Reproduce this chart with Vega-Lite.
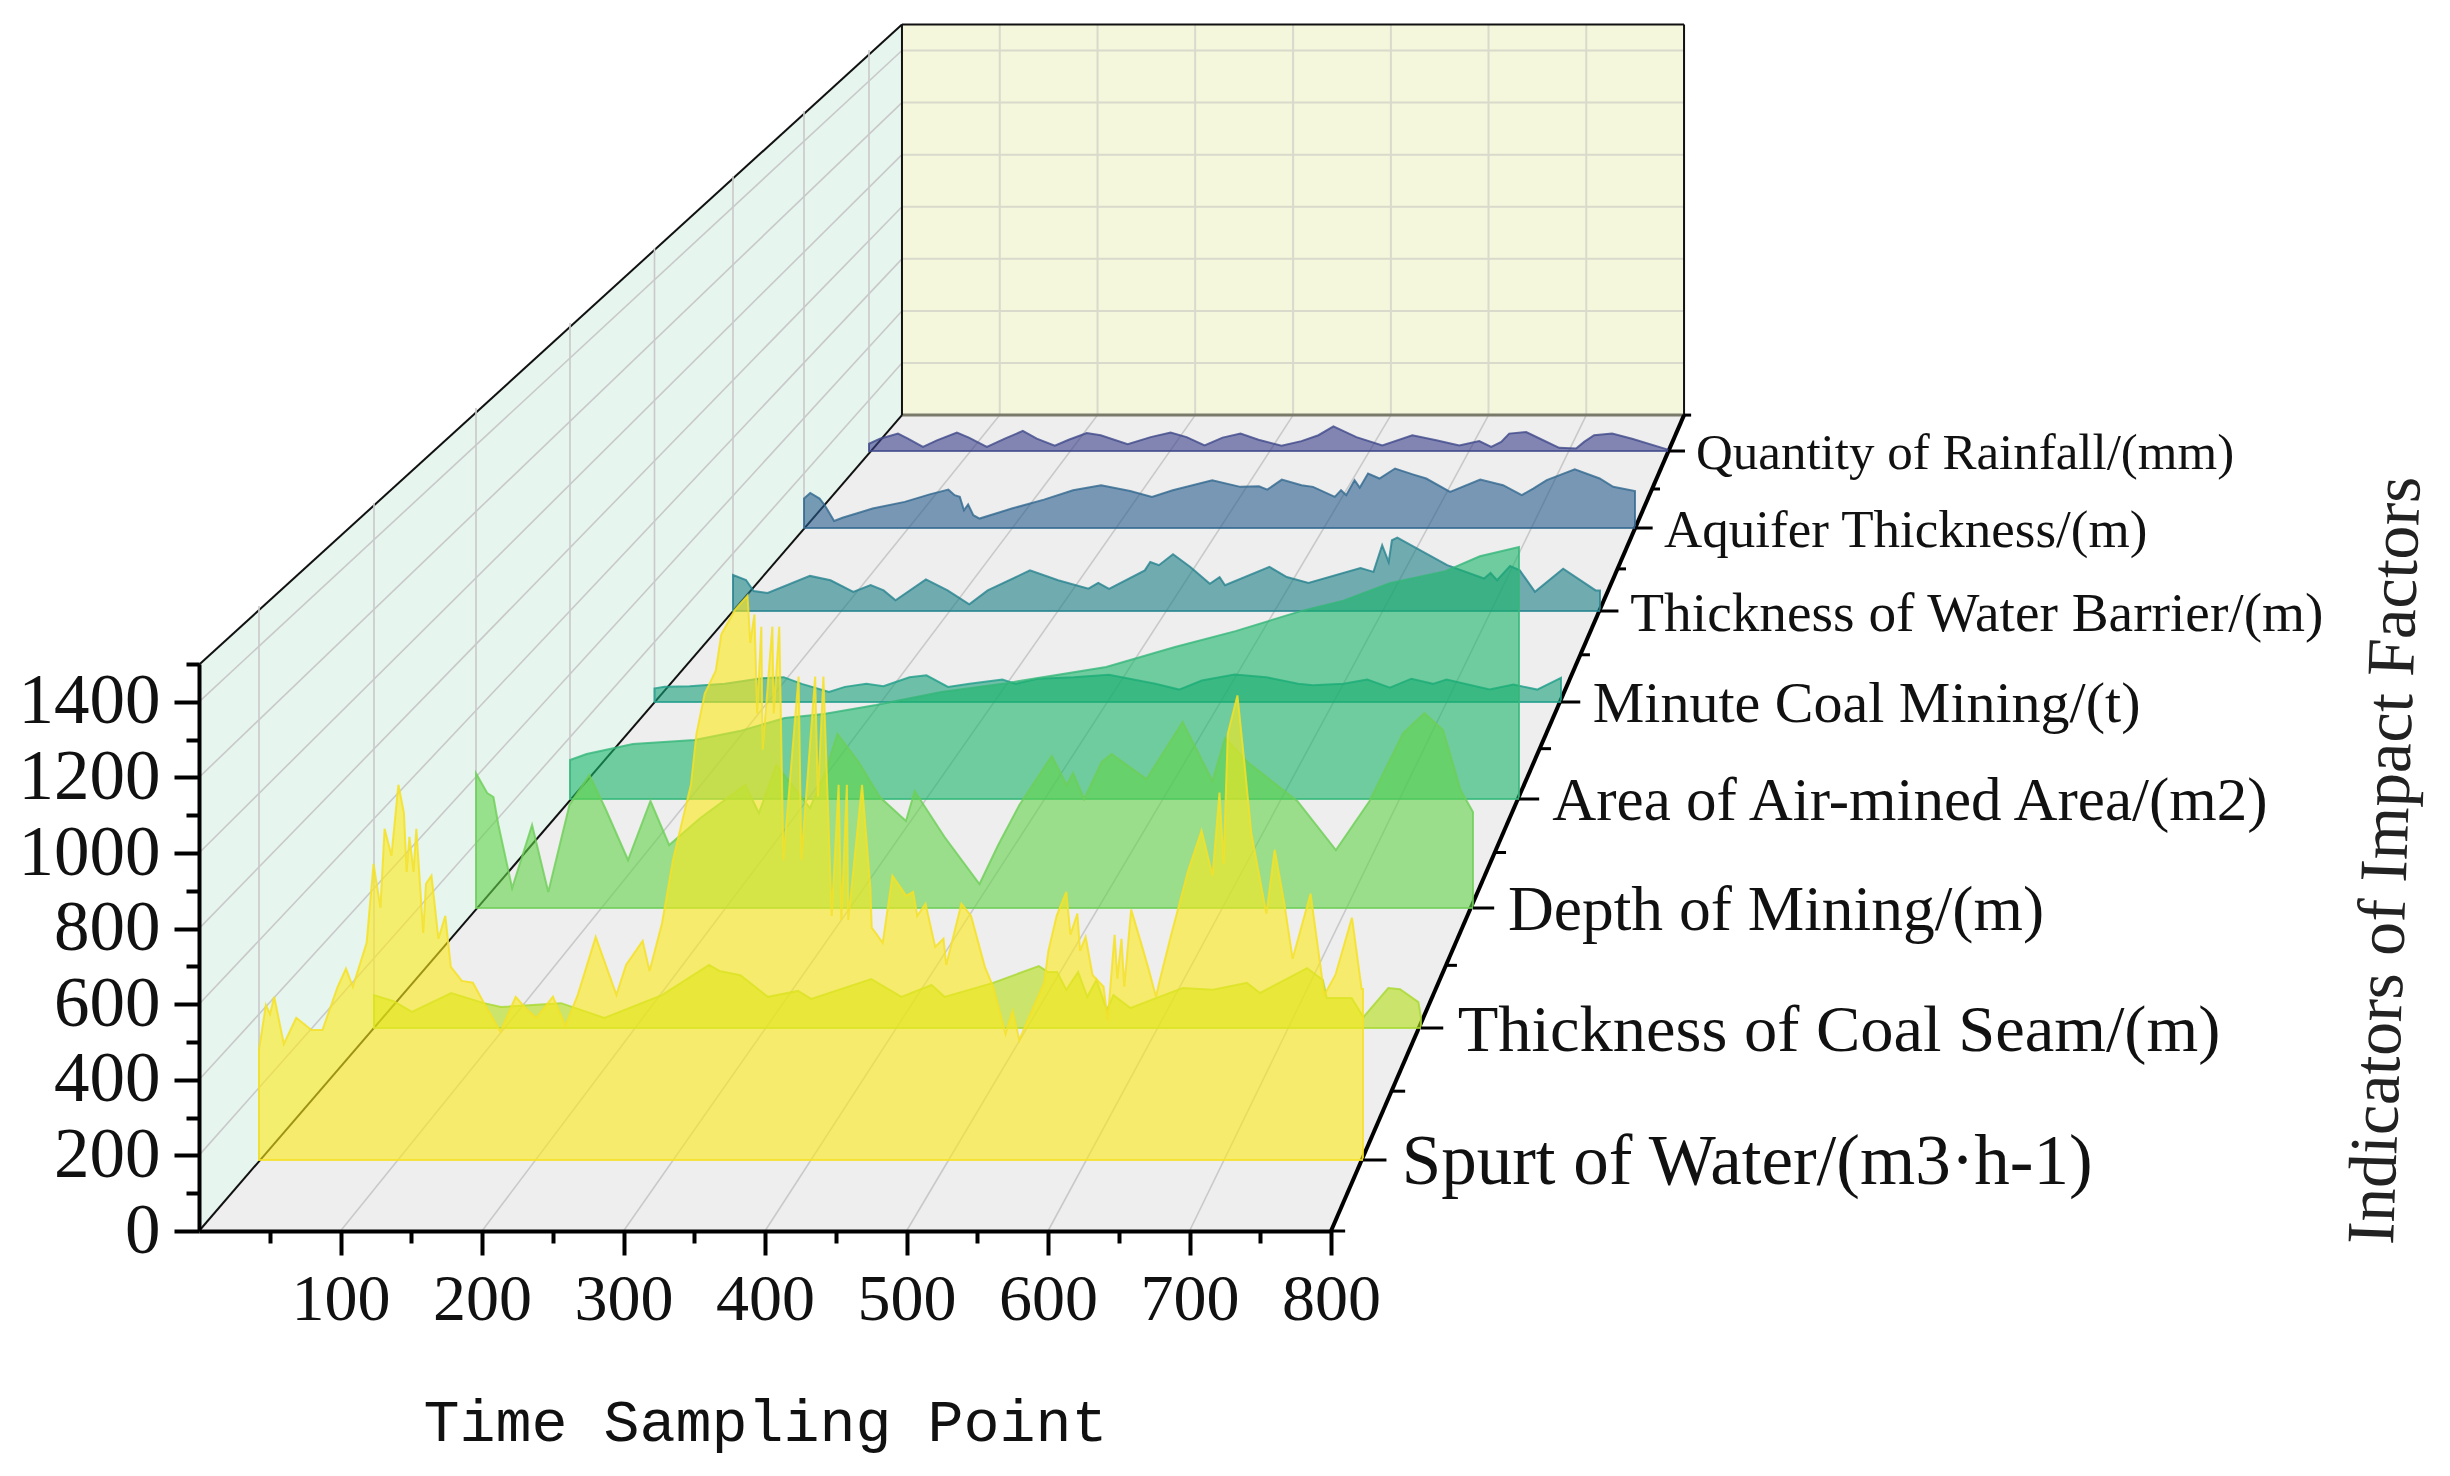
{"$schema":"https://vega.github.io/schema/vega-lite/v6.json","width":1132,"height":1231,"padding":{"left":199,"top":0,"right":1119,"bottom":245},"autosize":{"type":"none"},"background":"#ffffff","config":{"view":{"stroke":null}},
"datasets":{
"leftWall":[{"depth":0,"floor":0,"top":1498},{"depth":496.8,"floor":2158.5,"top":3191.6}],
"floorPlane":[{"level":0,"near":0,"far":800},{"level":2158.5,"near":496.8,"far":1049.5}],
"backWall":[{"left":496.8,"right":1049.5,"floor":2158.5,"top":3191.6}],
"frameLines":[
{"line":"f100","kind":"grid","time":100,"level":0},{"line":"f100","kind":"grid","time":565.9,"level":2158.5},
{"line":"f200","kind":"grid","time":200,"level":0},{"line":"f200","kind":"grid","time":635,"level":2158.5},
{"line":"f300","kind":"grid","time":300,"level":0},{"line":"f300","kind":"grid","time":704,"level":2158.5},
{"line":"f400","kind":"grid","time":400,"level":0},{"line":"f400","kind":"grid","time":773.2,"level":2158.5},
{"line":"f500","kind":"grid","time":500,"level":0},{"line":"f500","kind":"grid","time":842.3,"level":2158.5},
{"line":"f600","kind":"grid","time":600,"level":0},{"line":"f600","kind":"grid","time":911.3,"level":2158.5},
{"line":"f700","kind":"grid","time":700,"level":0},{"line":"f700","kind":"grid","time":980.4,"level":2158.5},
{"line":"w200","kind":"grid","time":0,"level":200},{"line":"w200","kind":"grid","time":496.8,"level":2296.3},
{"line":"w400","kind":"grid","time":0,"level":400},{"line":"w400","kind":"grid","time":496.8,"level":2434},
{"line":"w600","kind":"grid","time":0,"level":600},{"line":"w600","kind":"grid","time":496.8,"level":2571.8},
{"line":"w800","kind":"grid","time":0,"level":800},{"line":"w800","kind":"grid","time":496.8,"level":2709.6},
{"line":"w1000","kind":"grid","time":0,"level":1000},{"line":"w1000","kind":"grid","time":496.8,"level":2847.4},
{"line":"w1200","kind":"grid","time":0,"level":1200},{"line":"w1200","kind":"grid","time":496.8,"level":2985.2},
{"line":"w1400","kind":"grid","time":0,"level":1400},{"line":"w1400","kind":"grid","time":496.8,"level":3123},
{"line":"bv100","kind":"back","time":565.9,"level":2158.5},{"line":"bv100","kind":"back","time":565.9,"level":3191.6},
{"line":"bv200","kind":"back","time":635,"level":2158.5},{"line":"bv200","kind":"back","time":635,"level":3191.6},
{"line":"bv300","kind":"back","time":704,"level":2158.5},{"line":"bv300","kind":"back","time":704,"level":3191.6},
{"line":"bv400","kind":"back","time":773.2,"level":2158.5},{"line":"bv400","kind":"back","time":773.2,"level":3191.6},
{"line":"bv500","kind":"back","time":842.3,"level":2158.5},{"line":"bv500","kind":"back","time":842.3,"level":3191.6},
{"line":"bv600","kind":"back","time":911.3,"level":2158.5},{"line":"bv600","kind":"back","time":911.3,"level":3191.6},
{"line":"bv700","kind":"back","time":980.4,"level":2158.5},{"line":"bv700","kind":"back","time":980.4,"level":3191.6},
{"line":"bh200","kind":"back","time":496.8,"level":2296.3},{"line":"bh200","kind":"back","time":1049.5,"level":2296.3},
{"line":"bh400","kind":"back","time":496.8,"level":2434},{"line":"bh400","kind":"back","time":1049.5,"level":2434},
{"line":"bh600","kind":"back","time":496.8,"level":2571.8},{"line":"bh600","kind":"back","time":1049.5,"level":2571.8},
{"line":"bh800","kind":"back","time":496.8,"level":2709.6},{"line":"bh800","kind":"back","time":1049.5,"level":2709.6},
{"line":"bh1000","kind":"back","time":496.8,"level":2847.4},{"line":"bh1000","kind":"back","time":1049.5,"level":2847.4},
{"line":"bh1200","kind":"back","time":496.8,"level":2985.2},{"line":"bh1200","kind":"back","time":1049.5,"level":2985.2},
{"line":"bh1400","kind":"back","time":496.8,"level":3123},{"line":"bh1400","kind":"back","time":1049.5,"level":3123},
{"line":"eFloorLeft","kind":"edge","time":0,"level":0},{"line":"eFloorLeft","kind":"edge","time":496.8,"level":2158.5},
{"line":"eTop","kind":"edge","time":0,"level":1498},{"line":"eTop","kind":"edge","time":496.8,"level":3191.6},
{"line":"eBackLeft","kind":"edge","time":496.8,"level":2158.5},{"line":"eBackLeft","kind":"edge","time":496.8,"level":3191.6},
{"line":"eBackTop","kind":"edge","time":496.8,"level":3191.6},{"line":"eBackTop","kind":"edge","time":1049.5,"level":3191.6},
{"line":"eBackRight","kind":"edge","time":1049.5,"level":2158.5},{"line":"eBackRight","kind":"edge","time":1049.5,"level":3191.6},
{"line":"eBackFloor","kind":"soft","time":496.8,"level":2158.5},{"line":"eBackFloor","kind":"soft","time":1049.5,"level":2158.5},
{"line":"depthAxis","kind":"axis","time":800,"level":0},{"line":"depthAxis","kind":"axis","time":1049.5,"level":2158.5},
{"line":"m0","kind":"minor","time":800,"level":0},{"line":"m0","kind":"minor","time":810,"level":0},
{"line":"m1","kind":"minor","time":842.8,"level":369.9},{"line":"m1","kind":"minor","time":852.4,"level":369.9},
{"line":"m2","kind":"minor","time":881.3,"level":702.8},{"line":"m2","kind":"minor","time":889,"level":702.8},
{"line":"m3","kind":"minor","time":915.9,"level":1001.3},{"line":"m3","kind":"minor","time":923.7,"level":1001.3},
{"line":"m4","kind":"minor","time":947.7,"level":1276},{"line":"m4","kind":"minor","time":955.5,"level":1276},
{"line":"m5","kind":"minor","time":976.4,"level":1524.4},{"line":"m5","kind":"minor","time":983,"level":1524.4},
{"line":"m6","kind":"minor","time":1002.7,"level":1751.6},{"line":"m6","kind":"minor","time":1008.5,"level":1751.6},
{"line":"m7","kind":"minor","time":1026.9,"level":1963},{"line":"m7","kind":"minor","time":1032.5,"level":1963},
{"line":"m8","kind":"minor","time":1049.5,"level":2158.5},{"line":"m8","kind":"minor","time":1054.5,"level":2158.5}
],
"rainfall":[{"time":0,"value":27},{"time":11,"value":46},{"time":29,"value":65},{"time":39,"value":46},{"time":54,"value":15},{"time":68,"value":40},{"time":88,"value":69},{"time":100,"value":50},{"time":118,"value":15},{"time":136,"value":46},{"time":154,"value":75},{"time":168,"value":46},{"time":186,"value":20},{"time":200,"value":42},{"time":218,"value":67},{"time":232,"value":59},{"time":259,"value":25},{"time":282,"value":52},{"time":302,"value":69},{"time":318,"value":52},{"time":336,"value":21},{"time":354,"value":50},{"time":372,"value":65},{"time":390,"value":42},{"time":413,"value":20},{"time":433,"value":37},{"time":450,"value":59},{"time":465,"value":92},{"time":488,"value":52},{"time":514,"value":21},{"time":544,"value":59},{"time":568,"value":40},{"time":591,"value":21},{"time":611,"value":37},{"time":623,"value":15},{"time":633,"value":34},{"time":641,"value":65},{"time":658,"value":71},{"time":674,"value":42},{"time":691,"value":12},{"time":708,"value":9},{"time":716,"value":34},{"time":726,"value":59},{"time":744,"value":65},{"time":764,"value":46},{"time":800,"value":5}],
"aquifer":[{"time":0,"value":106},{"time":6,"value":126},{"time":15,"value":106},{"time":20,"value":82},{"time":29,"value":25},{"time":37,"value":37},{"time":66,"value":70},{"time":97,"value":94},{"time":121,"value":121},{"time":139,"value":138},{"time":145,"value":118},{"time":150,"value":112},{"time":154,"value":64},{"time":158,"value":85},{"time":163,"value":46},{"time":169,"value":34},{"time":200,"value":70},{"time":231,"value":102},{"time":259,"value":136},{"time":286,"value":154},{"time":314,"value":133},{"time":335,"value":112},{"time":355,"value":136},{"time":393,"value":172},{"time":420,"value":148},{"time":438,"value":150},{"time":446,"value":138},{"time":460,"value":174},{"time":479,"value":154},{"time":490,"value":148},{"time":511,"value":112},{"time":517,"value":136},{"time":522,"value":118},{"time":530,"value":172},{"time":535,"value":145},{"time":543,"value":196},{"time":554,"value":178},{"time":569,"value":214},{"time":586,"value":193},{"time":599,"value":178},{"time":622,"value":130},{"time":651,"value":174},{"time":673,"value":154},{"time":691,"value":118},{"time":702,"value":142},{"time":715,"value":172},{"time":742,"value":211},{"time":766,"value":178},{"time":779,"value":148},{"time":800,"value":133}],
"barrier":[{"time":0,"value":124},{"time":12,"value":107},{"time":19,"value":69},{"time":32,"value":62},{"time":71,"value":121},{"time":90,"value":106},{"time":111,"value":66},{"time":127,"value":89},{"time":139,"value":71},{"time":150,"value":37},{"time":178,"value":109},{"time":198,"value":71},{"time":218,"value":23},{"time":235,"value":71},{"time":274,"value":140},{"time":300,"value":106},{"time":328,"value":77},{"time":337,"value":97},{"time":347,"value":76},{"time":380,"value":140},{"time":385,"value":169},{"time":393,"value":158},{"time":406,"value":196},{"time":422,"value":152},{"time":440,"value":94},{"time":449,"value":117},{"time":454,"value":89},{"time":495,"value":152},{"time":511,"value":117},{"time":531,"value":97},{"time":579,"value":148},{"time":591,"value":135},{"time":599,"value":227},{"time":605,"value":169},{"time":608,"value":244},{"time":613,"value":253},{"time":659,"value":158},{"time":693,"value":112},{"time":699,"value":131},{"time":705,"value":106},{"time":717,"value":155},{"time":726,"value":140},{"time":740,"value":66},{"time":766,"value":146},{"time":796,"value":71},{"time":800,"value":71}],
"minute":[{"time":0,"value":45},{"time":9,"value":50},{"time":31,"value":52},{"time":62,"value":60},{"time":93,"value":78},{"time":114,"value":82},{"time":130,"value":60},{"time":154,"value":33},{"time":168,"value":50},{"time":187,"value":60},{"time":202,"value":52},{"time":225,"value":82},{"time":240,"value":88},{"time":259,"value":50},{"time":278,"value":60},{"time":307,"value":74},{"time":319,"value":60},{"time":338,"value":77},{"time":370,"value":82},{"time":401,"value":90},{"time":442,"value":60},{"time":463,"value":41},{"time":483,"value":71},{"time":512,"value":91},{"time":540,"value":82},{"time":568,"value":60},{"time":581,"value":55},{"time":608,"value":60},{"time":629,"value":74},{"time":649,"value":47},{"time":668,"value":77},{"time":687,"value":60},{"time":699,"value":74},{"time":737,"value":41},{"time":758,"value":58},{"time":779,"value":41},{"time":800,"value":80}],
"airMined":[{"time":0,"value":123},{"time":14,"value":142},{"time":53,"value":173},{"time":105,"value":186},{"time":143,"value":214},{"time":181,"value":255},{"time":214,"value":268},{"time":258,"value":296},{"time":313,"value":337},{"time":368,"value":365},{"time":452,"value":416},{"time":510,"value":479},{"time":561,"value":529},{"time":616,"value":592},{"time":652,"value":625},{"time":691,"value":680},{"time":738,"value":718},{"time":767,"value":765},{"time":800,"value":794}],
"depth":[{"time":0,"value":404},{"time":9,"value":345},{"time":14,"value":333},{"time":18,"value":249},{"time":29,"value":60},{"time":45,"value":249},{"time":58,"value":48},{"time":75,"value":309},{"time":91,"value":399},{"time":104,"value":297},{"time":122,"value":144},{"time":140,"value":321},{"time":155,"value":189},{"time":180,"value":270},{"time":216,"value":369},{"time":227,"value":285},{"time":241,"value":429},{"time":268,"value":300},{"time":280,"value":405},{"time":290,"value":522},{"time":307,"value":438},{"time":324,"value":333},{"time":345,"value":261},{"time":352,"value":351},{"time":376,"value":213},{"time":404,"value":72},{"time":419,"value":189},{"time":436,"value":309},{"time":462,"value":456},{"time":474,"value":369},{"time":479,"value":405},{"time":488,"value":327},{"time":502,"value":438},{"time":510,"value":462},{"time":538,"value":387},{"time":567,"value":558},{"time":591,"value":381},{"time":601,"value":510},{"time":619,"value":438},{"time":659,"value":321},{"time":690,"value":174},{"time":717,"value":321},{"time":744,"value":525},{"time":761,"value":585},{"time":776,"value":534},{"time":790,"value":354},{"time":800,"value":288}],
"coalSeam":[{"time":0,"value":94},{"time":15,"value":77},{"time":29,"value":46},{"time":59,"value":100},{"time":84,"value":71},{"time":97,"value":60},{"time":143,"value":71},{"time":176,"value":29},{"time":220,"value":94},{"time":256,"value":180},{"time":264,"value":163},{"time":280,"value":151},{"time":301,"value":89},{"time":324,"value":106},{"time":334,"value":83},{"time":380,"value":140},{"time":403,"value":89},{"time":426,"value":123},{"time":436,"value":89},{"time":473,"value":129},{"time":508,"value":177},{"time":515,"value":160},{"time":522,"value":160},{"time":529,"value":109},{"time":538,"value":160},{"time":545,"value":89},{"time":552,"value":137},{"time":560,"value":51},{"time":565,"value":94},{"time":578,"value":57},{"time":598,"value":86},{"time":618,"value":114},{"time":641,"value":109},{"time":667,"value":129},{"time":677,"value":100},{"time":713,"value":171},{"time":725,"value":137},{"time":728,"value":86},{"time":747,"value":86},{"time":756,"value":31},{"time":775,"value":114},{"time":784,"value":111},{"time":798,"value":74},{"time":800,"value":30}],
"spurt":[{"time":0,"value":298},{"time":5,"value":420},{"time":8,"value":395},{"time":11,"value":442},{"time":18,"value":314},{"time":27,"value":385},{"time":38,"value":352},{"time":46,"value":352},{"time":57,"value":469},{"time":63,"value":518},{"time":68,"value":469},{"time":78,"value":588},{"time":83,"value":802},{"time":88,"value":683},{"time":91,"value":897},{"time":96,"value":824},{"time":101,"value":1016},{"time":105,"value":940},{"time":107,"value":780},{"time":109,"value":875},{"time":112,"value":780},{"time":114,"value":897},{"time":119,"value":615},{"time":121,"value":748},{"time":125,"value":770},{"time":130,"value":599},{"time":135,"value":661},{"time":139,"value":523},{"time":147,"value":485},{"time":155,"value":480},{"time":163,"value":425},{"time":175,"value":347},{"time":186,"value":442},{"time":195,"value":404},{"time":201,"value":385},{"time":213,"value":442},{"time":222,"value":363},{"time":231,"value":447},{"time":244,"value":604},{"time":259,"value":447},{"time":266,"value":528},{"time":278,"value":593},{"time":283,"value":512},{"time":292,"value":640},{"time":300,"value":813},{"time":313,"value":1016},{"time":317,"value":1154},{"time":323,"value":1263},{"time":331,"value":1325},{"time":335,"value":1423},{"time":345,"value":1490},{"time":354,"value":1528},{"time":356,"value":1400},{"time":359,"value":1477},{"time":361,"value":1209},{"time":364,"value":1444},{"time":365,"value":1111},{"time":372,"value":1444},{"time":373,"value":1209},{"time":377,"value":1444},{"time":380,"value":813},{"time":391,"value":1309},{"time":393,"value":813},{"time":403,"value":1309},{"time":405,"value":984},{"time":409,"value":1309},{"time":415,"value":661},{"time":420,"value":1016},{"time":422,"value":650},{"time":426,"value":1016},{"time":427,"value":650},{"time":437,"value":1016},{"time":443,"value":737},{"time":444,"value":629},{"time":452,"value":588},{"time":459,"value":770},{"time":469,"value":715},{"time":474,"value":726},{"time":477,"value":661},{"time":483,"value":694},{"time":490,"value":577},{"time":496,"value":599},{"time":498,"value":528},{"time":509,"value":694},{"time":516,"value":661},{"time":526,"value":523},{"time":532,"value":469},{"time":541,"value":341},{"time":546,"value":404},{"time":551,"value":325},{"time":560,"value":404},{"time":569,"value":480},{"time":572,"value":566},{"time":578,"value":661},{"time":585,"value":726},{"time":588,"value":610},{"time":593,"value":667},{"time":595,"value":566},{"time":599,"value":604},{"time":604,"value":501},{"time":612,"value":469},{"time":615,"value":379},{"time":620,"value":610},{"time":622,"value":491},{"time":625,"value":599},{"time":627,"value":469},{"time":632,"value":678},{"time":640,"value":577},{"time":645,"value":512},{"time":650,"value":442},{"time":653,"value":491},{"time":661,"value":610},{"time":667,"value":694},{"time":673,"value":780},{"time":683,"value":892},{"time":691,"value":770},{"time":696,"value":995},{"time":699,"value":802},{"time":702,"value":1154},{"time":709,"value":1258},{"time":714,"value":1078},{"time":719,"value":886},{"time":730,"value":667},{"time":736,"value":840},{"time":743,"value":694},{"time":749,"value":545},{"time":762,"value":721},{"time":772,"value":447},{"time":780,"value":501},{"time":792,"value":656},{"time":799,"value":463},{"time":800,"value":463}]
},
"layer":[
{"layer":[
{"data":{"name":"leftWall"},"mark":{"type":"area","fill":"#e6f5ee","orient":"vertical"},"encoding":{"x":{"field":"depth","type":"quantitative","scale":{"domain":[0,800],"range":[0,1132],"nice":false},"axis":null},"y":{"field":"floor","type":"quantitative","scale":{"domain":[0,1500],"range":[1231,664],"nice":false},"axis":null},"y2":{"field":"top"}}},
{"data":{"name":"floorPlane"},"mark":{"type":"area","fill":"#eeeeee","orient":"horizontal"},"encoding":{"y":{"field":"level","type":"quantitative","axis":null},"x":{"field":"near","type":"quantitative","axis":null},"x2":{"field":"far"}}},
{"data":{"name":"backWall"},"mark":{"type":"rect","fill":"#f5f7dc"},"encoding":{"x":{"field":"left","type":"quantitative","axis":null},"x2":{"field":"right"},"y":{"field":"floor","type":"quantitative","axis":null},"y2":{"field":"top"}}},
{"data":{"name":"frameLines"},"transform":[{"filter":"datum.kind==='grid'"}],"mark":{"type":"line","stroke":"#c9c9c9","strokeWidth":1.6},"encoding":{"x":{"field":"time","type":"quantitative","axis":null},"y":{"field":"level","type":"quantitative","axis":null},"detail":{"field":"line"}}},
{"data":{"name":"frameLines"},"transform":[{"filter":"datum.kind==='back'"}],"mark":{"type":"line","stroke":"#d9d9cc","strokeWidth":2},"encoding":{"x":{"field":"time","type":"quantitative","axis":null},"y":{"field":"level","type":"quantitative","axis":null},"detail":{"field":"line"}}},
{"data":{"name":"frameLines"},"transform":[{"filter":"datum.kind==='soft'"}],"mark":{"type":"line","stroke":"#7a7a6a","strokeWidth":3},"encoding":{"x":{"field":"time","type":"quantitative","axis":null},"y":{"field":"level","type":"quantitative","axis":null},"detail":{"field":"line"}}},
{"data":{"name":"frameLines"},"transform":[{"filter":"datum.kind==='edge'"}],"mark":{"type":"line","stroke":"#111111","strokeWidth":2},"encoding":{"x":{"field":"time","type":"quantitative","axis":null},"y":{"field":"level","type":"quantitative","axis":null},"detail":{"field":"line"}}},
{"data":{"name":"frameLines"},"transform":[{"filter":"datum.kind==='axis'"}],"mark":{"type":"line","stroke":"#000000","strokeWidth":4},"encoding":{"x":{"field":"time","type":"quantitative","axis":null},"y":{"field":"level","type":"quantitative","axis":null},"detail":{"field":"line"}}},
{"data":{"name":"frameLines"},"transform":[{"filter":"datum.kind==='minor'"}],"mark":{"type":"line","stroke":"#000000","strokeWidth":3},"encoding":{"x":{"field":"time","type":"quantitative","axis":null},"y":{"field":"level","type":"quantitative","axis":null},"detail":{"field":"line"}}}
]},
{"data":{"values":[{"tick":100}]},"mark":{"type":"point","opacity":0},"encoding":{"x":{"field":"tick","type":"quantitative","scale":{"domain":[0,800],"range":[0,1132],"nice":false},"axis":{"orient":"bottom","zindex":1,"values":[100,200,300,400,500,600,700,800],"title":"Time Sampling Point","titleFont":"Liberation Mono","titleFontSize":60,"titleFontWeight":"normal","titleX":566,"titleY":191,"titleBaseline":"middle","titleColor":"#111111","labelFont":"Liberation Serif","labelFontSize":66,"labelColor":"#111111","labelPadding":12,"labelOverlap":false,"labelFlush":false,"tickColor":"#000000","tickWidth":4,"tickSize":24,"domainColor":"#000000","domainWidth":4,"grid":false,"format":"d"}},"y":{"field":"tick","type":"quantitative","scale":{"domain":[0,1500],"range":[1231,664],"nice":false},"axis":{"orient":"left","zindex":1,"values":[0,200,400,600,800,1000,1200,1400],"title":null,"labelFont":"Liberation Serif","labelFontSize":71,"labelColor":"#111111","labelPadding":14,"labelOverlap":false,"labelFlush":false,"tickColor":"#000000","tickWidth":4,"tickSize":25,"domainColor":"#000000","domainWidth":4,"grid":false,"format":"d"}}}},
{"data":{"values":[{"tick":100}]},"mark":{"type":"point","opacity":0},"encoding":{"x":{"field":"tick","type":"quantitative","scale":{"domain":[0,800],"range":[0,1132],"nice":false},"axis":{"orient":"bottom","values":[50,150,250,350,450,550,650,750],"title":null,"labels":false,"domain":false,"grid":false,"tickColor":"#000000","tickWidth":4,"tickSize":12}},"y":{"field":"tick","type":"quantitative","scale":{"domain":[0,1500],"range":[1231,664],"nice":false},"axis":{"orient":"left","values":[100,300,500,700,900,1100,1300,1500],"title":null,"labels":false,"domain":false,"grid":false,"tickColor":"#000000","tickWidth":4,"tickSize":13}}}},
{"data":{"values":[{"tick":100}]},"mark":{"type":"point","opacity":0},"encoding":{"y":{"field":"tick","type":"quantitative","scale":{"domain":[0,1500],"range":[1231,664],"nice":false},"axis":{"orient":"right","title":"Indicators of Impact Factors","titleFont":"Liberation Serif","titleFontSize":68,"titleFontWeight":"normal","titleColor":"#222222","titleAngle":272,"titleX":1055,"titleY":860,"titleAlign":"center","titleBaseline":"middle","labels":false,"ticks":false,"domain":false,"grid":false}}}},
{"data":{"values":[{"indicator":"Quantity of Rainfall/(mm)"}]},"layer":[
{"mark":{"type":"rule","stroke":"#c9c9c9","strokeWidth":1.6},"encoding":{"x":{"datum":0,"type":"quantitative","axis":null},"y":{"datum":0,"type":"quantitative","axis":null},"y2":{"datum":1500}}},
{"data":{"name":"rainfall"},"mark":{"type":"area","fill":"#3b3f8a","fillOpacity":0.6,"stroke":"#3e4989","strokeOpacity":0.8,"strokeWidth":2},"encoding":{"x":{"field":"time","type":"quantitative","scale":{"domain":[0,800],"range":[670,1469],"nice":false},"axis":null},"y":{"field":"value","type":"quantitative","stack":null,"scale":{"domain":[0,1500],"range":[451,50],"nice":false},"axis":null}}},
{"mark":{"type":"rule","stroke":"#000000","strokeWidth":3},"encoding":{"x":{"datum":800,"type":"quantitative","axis":null},"x2":{"datum":817},"y":{"datum":0,"type":"quantitative","axis":null}}},
{"mark":{"type":"text","font":"Liberation Serif","fontSize":51,"dy":3,"align":"left","baseline":"middle","fill":"#111111"},"encoding":{"x":{"datum":828,"type":"quantitative","axis":null},"y":{"datum":0,"type":"quantitative","axis":null},"text":{"field":"indicator"}}}
]},
{"data":{"values":[{"indicator":"Aquifer Thickness/(m)"}]},"layer":[
{"mark":{"type":"rule","stroke":"#c9c9c9","strokeWidth":1.6},"encoding":{"x":{"datum":0,"type":"quantitative","axis":null},"y":{"datum":0,"type":"quantitative","axis":null},"y2":{"datum":1500}}},
{"data":{"name":"aquifer"},"mark":{"type":"area","fill":"#2a5d8e","fillOpacity":0.6,"stroke":"#31688e","strokeOpacity":0.8,"strokeWidth":2},"encoding":{"x":{"field":"time","type":"quantitative","scale":{"domain":[0,800],"range":[605,1436],"nice":false},"axis":null},"y":{"field":"value","type":"quantitative","stack":null,"scale":{"domain":[0,1500],"range":[528,111],"nice":false},"axis":null}}},
{"mark":{"type":"rule","stroke":"#000000","strokeWidth":3},"encoding":{"x":{"datum":800,"type":"quantitative","axis":null},"x2":{"datum":817},"y":{"datum":0,"type":"quantitative","axis":null}}},
{"mark":{"type":"text","font":"Liberation Serif","fontSize":53,"dy":3,"align":"left","baseline":"middle","fill":"#111111"},"encoding":{"x":{"datum":828,"type":"quantitative","axis":null},"y":{"datum":0,"type":"quantitative","axis":null},"text":{"field":"indicator"}}}
]},
{"data":{"values":[{"indicator":"Thickness of Water Barrier/(m)"}]},"layer":[
{"mark":{"type":"rule","stroke":"#c9c9c9","strokeWidth":1.6},"encoding":{"x":{"datum":0,"type":"quantitative","axis":null},"y":{"datum":0,"type":"quantitative","axis":null},"y2":{"datum":1500}}},
{"data":{"name":"barrier"},"mark":{"type":"area","fill":"#1c7f85","fillOpacity":0.6,"stroke":"#26828e","strokeOpacity":0.8,"strokeWidth":2},"encoding":{"x":{"field":"time","type":"quantitative","scale":{"domain":[0,800],"range":[534,1401],"nice":false},"axis":null},"y":{"field":"value","type":"quantitative","stack":null,"scale":{"domain":[0,1500],"range":[611,176],"nice":false},"axis":null}}},
{"mark":{"type":"rule","stroke":"#000000","strokeWidth":3},"encoding":{"x":{"datum":800,"type":"quantitative","axis":null},"x2":{"datum":817},"y":{"datum":0,"type":"quantitative","axis":null}}},
{"mark":{"type":"text","font":"Liberation Serif","fontSize":55.3,"dy":3,"align":"left","baseline":"middle","fill":"#111111"},"encoding":{"x":{"datum":828,"type":"quantitative","axis":null},"y":{"datum":0,"type":"quantitative","axis":null},"text":{"field":"indicator"}}}
]},
{"data":{"values":[{"indicator":"Minute Coal Mining/(t)"}]},"layer":[
{"mark":{"type":"rule","stroke":"#c9c9c9","strokeWidth":1.6},"encoding":{"x":{"datum":0,"type":"quantitative","axis":null},"y":{"datum":0,"type":"quantitative","axis":null},"y2":{"datum":1500}}},
{"data":{"name":"minute"},"mark":{"type":"area","fill":"#17a079","fillOpacity":0.6,"stroke":"#1f9e89","strokeOpacity":0.8,"strokeWidth":2},"encoding":{"x":{"field":"time","type":"quantitative","scale":{"domain":[0,800],"range":[455.5,1362],"nice":false},"axis":null},"y":{"field":"value","type":"quantitative","stack":null,"scale":{"domain":[0,1500],"range":[702,248],"nice":false},"axis":null}}},
{"mark":{"type":"rule","stroke":"#000000","strokeWidth":3},"encoding":{"x":{"datum":800,"type":"quantitative","axis":null},"x2":{"datum":817},"y":{"datum":0,"type":"quantitative","axis":null}}},
{"mark":{"type":"text","font":"Liberation Serif","fontSize":58,"dy":3,"align":"left","baseline":"middle","fill":"#111111"},"encoding":{"x":{"datum":828,"type":"quantitative","axis":null},"y":{"datum":0,"type":"quantitative","axis":null},"text":{"field":"indicator"}}}
]},
{"data":{"values":[{"indicator":"Area of Air-mined Area/(m2)"}]},"layer":[
{"mark":{"type":"rule","stroke":"#c9c9c9","strokeWidth":1.6},"encoding":{"x":{"datum":0,"type":"quantitative","axis":null},"y":{"datum":0,"type":"quantitative","axis":null},"y2":{"datum":1500}}},
{"data":{"name":"airMined"},"mark":{"type":"area","fill":"#19b66b","fillOpacity":0.6,"stroke":"#35b779","strokeOpacity":0.8,"strokeWidth":2},"encoding":{"x":{"field":"time","type":"quantitative","scale":{"domain":[0,800],"range":[371,1320],"nice":false},"axis":null},"y":{"field":"value","type":"quantitative","stack":null,"scale":{"domain":[0,1500],"range":[799,323],"nice":false},"axis":null}}},
{"mark":{"type":"rule","stroke":"#000000","strokeWidth":3},"encoding":{"x":{"datum":800,"type":"quantitative","axis":null},"x2":{"datum":817},"y":{"datum":0,"type":"quantitative","axis":null}}},
{"mark":{"type":"text","font":"Liberation Serif","fontSize":61,"dy":3,"align":"left","baseline":"middle","fill":"#111111"},"encoding":{"x":{"datum":828,"type":"quantitative","axis":null},"y":{"datum":0,"type":"quantitative","axis":null},"text":{"field":"indicator"}}}
]},
{"data":{"values":[{"indicator":"Depth of Mining/(m)"}]},"layer":[
{"mark":{"type":"rule","stroke":"#c9c9c9","strokeWidth":1.6},"encoding":{"x":{"datum":0,"type":"quantitative","axis":null},"y":{"datum":0,"type":"quantitative","axis":null},"y2":{"datum":1500}}},
{"data":{"name":"depth"},"mark":{"type":"area","fill":"#62d44b","fillOpacity":0.6,"stroke":"#6ece58","strokeOpacity":0.8,"strokeWidth":2},"encoding":{"x":{"field":"time","type":"quantitative","scale":{"domain":[0,800],"range":[277,1274],"nice":false},"axis":null},"y":{"field":"value","type":"quantitative","stack":null,"scale":{"domain":[0,1500],"range":[908,408],"nice":false},"axis":null}}},
{"mark":{"type":"rule","stroke":"#000000","strokeWidth":3},"encoding":{"x":{"datum":800,"type":"quantitative","axis":null},"x2":{"datum":817},"y":{"datum":0,"type":"quantitative","axis":null}}},
{"mark":{"type":"text","font":"Liberation Serif","fontSize":63.5,"dy":3,"align":"left","baseline":"middle","fill":"#111111"},"encoding":{"x":{"datum":828,"type":"quantitative","axis":null},"y":{"datum":0,"type":"quantitative","axis":null},"text":{"field":"indicator"}}}
]},
{"data":{"values":[{"indicator":"Thickness of Coal Seam/(m)"}]},"layer":[
{"mark":{"type":"rule","stroke":"#c9c9c9","strokeWidth":1.6},"encoding":{"x":{"datum":0,"type":"quantitative","axis":null},"y":{"datum":0,"type":"quantitative","axis":null},"y2":{"datum":1500}}},
{"data":{"name":"coalSeam"},"mark":{"type":"area","fill":"#b4e016","fillOpacity":0.6,"stroke":"#a8d82f","strokeOpacity":0.8,"strokeWidth":2},"encoding":{"x":{"field":"time","type":"quantitative","scale":{"domain":[0,800],"range":[175,1222],"nice":false},"axis":null},"y":{"field":"value","type":"quantitative","stack":null,"scale":{"domain":[0,1500],"range":[1028,503],"nice":false},"axis":null}}},
{"mark":{"type":"rule","stroke":"#000000","strokeWidth":3},"encoding":{"x":{"datum":800,"type":"quantitative","axis":null},"x2":{"datum":817},"y":{"datum":0,"type":"quantitative","axis":null}}},
{"mark":{"type":"text","font":"Liberation Serif","fontSize":66.5,"dy":3,"align":"left","baseline":"middle","fill":"#111111"},"encoding":{"x":{"datum":828,"type":"quantitative","axis":null},"y":{"datum":0,"type":"quantitative","axis":null},"text":{"field":"indicator"}}}
]},
{"data":{"values":[{"indicator":"Spurt of Water/(m3·h-1)"}]},"layer":[
{"mark":{"type":"rule","stroke":"#c9c9c9","strokeWidth":1.6},"encoding":{"x":{"datum":0,"type":"quantitative","axis":null},"y":{"datum":0,"type":"quantitative","axis":null},"y2":{"datum":1500}}},
{"data":{"name":"spurt"},"mark":{"type":"area","fill":"#fdea19","fillOpacity":0.6,"stroke":"#f5e027","strokeOpacity":0.85,"strokeWidth":2},"encoding":{"x":{"field":"time","type":"quantitative","scale":{"domain":[0,800],"range":[60,1164],"nice":false},"axis":null},"y":{"field":"value","type":"quantitative","stack":null,"scale":{"domain":[0,1500],"range":[1160,606],"nice":false},"axis":null}}},
{"mark":{"type":"rule","stroke":"#000000","strokeWidth":3},"encoding":{"x":{"datum":800,"type":"quantitative","axis":null},"x2":{"datum":817},"y":{"datum":0,"type":"quantitative","axis":null}}},
{"mark":{"type":"text","font":"Liberation Serif","fontSize":71,"dy":3,"align":"left","baseline":"middle","fill":"#111111"},"encoding":{"x":{"datum":828,"type":"quantitative","axis":null},"y":{"datum":0,"type":"quantitative","axis":null},"text":{"field":"indicator"}}}
]}
],
"resolve":{"scale":{"x":"independent","y":"independent"},"axis":{"x":"independent","y":"independent"}}}
